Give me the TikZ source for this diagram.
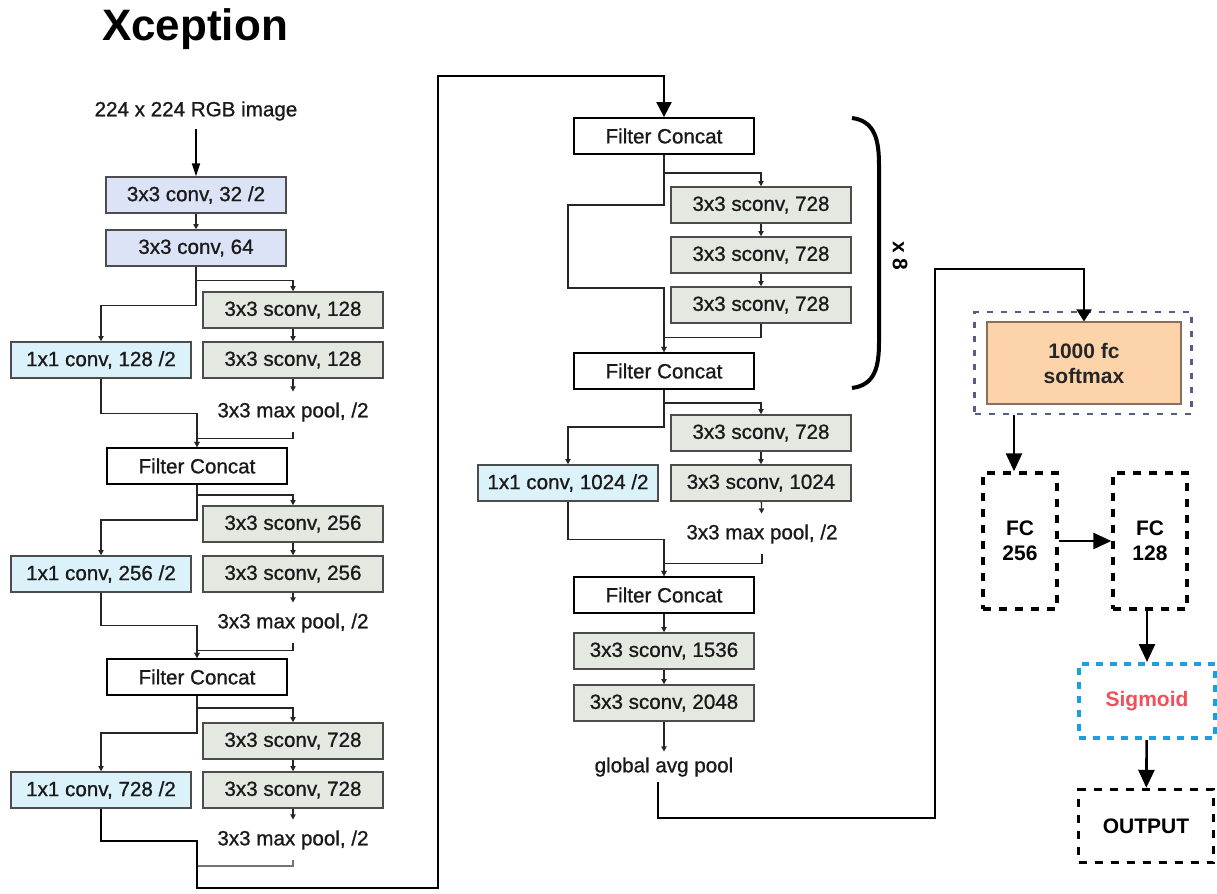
\documentclass[tikz,border=0pt]{standalone}
\usepackage{fontspec}
\setmainfont{Liberation Sans}
\newfontfamily\layerfont[FakeBold=0.9]{Liberation Sans}
\usetikzlibrary{arrows.meta}

\definecolor{convblue}{HTML}{DDE3F7}
\definecolor{sconvgray}{HTML}{E3E8E0}
\definecolor{pwcyan}{HTML}{DCF2FA}
\definecolor{fcorange}{HTML}{FDD4A9}
\definecolor{fcborder}{HTML}{8C6E5A}
\definecolor{slate}{HTML}{5B5B8A}
\definecolor{sigblue}{HTML}{1B9FE0}
\definecolor{sigred}{HTML}{F0505C}

\tikzset{
  layer/.style={draw=black!70, line width=0.7pt, minimum width=90pt, minimum height=18pt,
    inner sep=0pt, font=\layerfont\fontsize{10.3}{12}\selectfont, text=black!90},
  conv/.style={layer, fill=convblue},
  sconv/.style={layer, fill=sconvgray},
  pwconv/.style={layer, fill=pwcyan},
  concat/.style={layer, draw=black, line width=0.9pt, fill=white},
  plaintext/.style={inner sep=0pt, minimum height=20pt, font=\layerfont\fontsize{10.3}{12}\selectfont, text=black!90},
  wire/.style={line width=0.65pt, draw=black!85},
  link/.style={wire, -{Triangle[length=2.6pt,width=2.6pt]}},
  bypass/.style={line width=1pt, draw=black, -{Triangle[length=7.5pt,width=7.5pt]}},
  bigarrow/.style={line width=1.3pt, draw=black, -{Triangle[length=9pt,width=8pt]}},
  headbox/.style={align=center, inner sep=0pt, font=\bfseries\fontsize{10.5}{12.5}\selectfont},
  fcbox/.style={headbox, draw=black, line width=1.7pt, dash pattern=on 4pt off 4pt,
    minimum width=37pt, minimum height=68pt}
}

\begin{document}
\begin{tikzpicture}[x=0.5pt, y=-0.5pt]
  \useasboundingbox (0,0) rectangle (1217,894);
  % Title
  \node[font=\bfseries\fontsize{22}{26}\selectfont, anchor=base] (title) at (195,40) {Xception};

  % Entry flow
  \node[plaintext, minimum height=18pt] (input) at (196,111) {224 x 224 RGB image};
  \node[conv] (conv1) at (196,195) {3x3 conv, 32 /2};
  \node[conv] (conv2) at (196,248) {3x3 conv, 64};
  \node[sconv] (sc1a) at (293,310) {3x3 sconv, 128};
  \node[sconv] (sc1b) at (293,360) {3x3 sconv, 128};
  \node[pwconv] (pw1) at (101,360) {1x1 conv, 128 /2};
  \node[plaintext] (mp1) at (293,412) {3x3 max pool, /2};
  \node[concat] (cat1) at (197,466) {Filter Concat};
  \node[sconv] (sc2a) at (293,524) {3x3 sconv, 256};
  \node[sconv] (sc2b) at (293,574) {3x3 sconv, 256};
  \node[pwconv] (pw2) at (101,574) {1x1 conv, 256 /2};
  \node[plaintext] (mp2) at (293,623) {3x3 max pool, /2};
  \node[concat] (cat2) at (197,677) {Filter Concat};
  \node[sconv] (sc3a) at (293,741) {3x3 sconv, 728};
  \node[sconv] (sc3b) at (293,790) {3x3 sconv, 728};
  \node[pwconv] (pw3) at (101,790) {1x1 conv, 728 /2};
  \node[plaintext] (mp3) at (293,840) {3x3 max pool, /2};
  \coordinate (merge3) at (197,866);
  \coordinate (turnA) at (197,888);
  \coordinate (turnB) at (438,76);

  % Middle flow
  \node[concat] (cat3) at (664,136) {Filter Concat};
  \node[sconv] (m1) at (761,205) {3x3 sconv, 728};
  \node[sconv] (m2) at (761,255) {3x3 sconv, 728};
  \node[sconv] (m3) at (761,305) {3x3 sconv, 728};
  \node[concat] (cat4) at (664,371) {Filter Concat};
  \draw[line width=2pt] (852,118) .. controls (875,121) and (879,140) .. (879,165)
    -- (879,342) .. controls (879,367) and (875,385) .. (852,388);
  \node[rotate=-90, inner sep=0pt, font=\bfseries\fontsize{10.5}{12}\selectfont] (times) at (900,256) {x 8};

  % Exit flow
  \node[sconv] (ex1) at (761,433) {3x3 sconv, 728};
  \node[sconv] (ex2) at (761,483) {3x3 sconv, 1024};
  \node[pwconv] (pw4) at (568,483) {1x1 conv, 1024 /2};
  \node[plaintext] (mp4) at (762,534) {3x3 max pool, /2};
  \node[concat] (cat5) at (664,595) {Filter Concat};
  \node[sconv] (ex3) at (664,651) {3x3 sconv, 1536};
  \node[sconv] (ex4) at (664,703) {3x3 sconv, 2048};
  \node[plaintext, minimum height=15pt] (gap) at (664,767) {global avg pool};
  \coordinate (turnC) at (935,818);
  \coordinate (turnD) at (935,269);

  % Classifier head
  \node[draw=slate, line width=1.3pt, dash pattern=on 3pt off 4pt,
    minimum width=108.5pt, minimum height=51pt] (smxbox) at (1083,363) {};
  \node[headbox, draw=fcborder, line width=0.6pt, fill=fcorange, text=black!85,
    minimum width=97pt, minimum height=41pt] (smx) at (1084,363) {1000 fc\\softmax};
  \node[fcbox] (fc256) at (1020,541) {FC\\256};
  \node[fcbox] (fc128) at (1150,541) {FC\\128};
  \node[headbox, text=sigred, draw=sigblue, line width=2pt, dash pattern=on 3.5pt off 3.5pt,
    minimum width=68pt, minimum height=37pt] (sig) at (1147,701) {Sigmoid};
  \node[fcbox, minimum width=67.5pt, minimum height=36.5pt] (out) at (1146,826) {OUTPUT};

  % Connections: entry flow
  \draw[line width=1pt, -{Triangle[length=6.5pt,width=4pt]}] (input.south) -- (conv1.north);
  \draw[link] (conv1) -- (conv2);
  \draw[link] (conv2.south) -- ++(0,14) -| (sc1a.north);
  \draw[link] (conv2.south) -- ++(0,39) -| (pw1.north);
  \draw[link] (sc1a) -- (sc1b);
  \draw[link] (sc1b) -- (mp1);
  \draw[link] (mp1.south) -- ++(0,6) -| (cat1.north);
  \draw[link] (pw1.south) -- ++(0,35) -| (cat1.north);
  \draw[link] (cat1.south) -- ++(0,10) -| (sc2a.north);
  \draw[link] (cat1.south) -- ++(0,35) -| (pw2.north);
  \draw[link] (sc2a) -- (sc2b);
  \draw[link] (sc2b) -- (mp2);
  \draw[link] (mp2.south) -- ++(0,7) -| (cat2.north);
  \draw[link] (pw2.south) -- ++(0,33) -| (cat2.north);
  \draw[link] (cat2.south) -- ++(0,12) -| (sc3a.north);
  \draw[link] (cat2.south) -- ++(0,37) -| (pw3.north);
  \draw[link] (sc3a) -- (sc3b);
  \draw[link] (sc3b) -- (mp3);
  \draw[wire, draw=black!55] (mp3.south) |- (merge3);
  \draw[bypass] (pw3.south) -- ++(0,32) -| (turnA) -| (turnB) -| (cat3.north);

  % Connections: middle flow
  \draw[link] (cat3.south) -- ++(0,18) -| (m1.north);
  \draw[link] (cat3.south) -- ++(0,50) -- ++(-96,0) -- ++(0,83) -| (cat4.north);
  \draw[link] (m1) -- (m2);
  \draw[link] (m2) -- (m3);
  \draw[link] (m3.south) -- ++(0,14) -| (cat4.north);

  % Connections: exit flow
  \draw[link] (cat4.south) -- ++(0,13) -| (ex1.north);
  \draw[link] (cat4.south) -- ++(0,37) -| (pw4.north);
  \draw[link] (ex1) -- (ex2);
  \draw[link] (ex2) -- (mp4);
  \draw[link] (mp4.south) -- ++(0,9) -| (cat5.north);
  \draw[link] (pw4.south) -- ++(0,38) -| (cat5.north);
  \draw[link] (cat5) -- (ex3);
  \draw[link] (ex3) -- (ex4);
  \draw[link] (ex4) -- (gap);
  \draw[line width=1pt, -{Triangle[length=6pt,width=7.5pt]}]
    ([xshift=-3pt]gap.south) |- (turnC) -- (turnD) -| (smx.north);

  % Connections: classifier head
  \draw[bigarrow] ([xshift=-3pt]fc256.north |- smxbox.south) -- ([xshift=-3pt]fc256.north);
  \draw[bigarrow] (fc256) -- (fc128);
  \draw[bigarrow] (sig.north |- fc128.south) -- (sig.north);
  \draw[bigarrow] (sig) -- (out);
\end{tikzpicture}
\end{document}
